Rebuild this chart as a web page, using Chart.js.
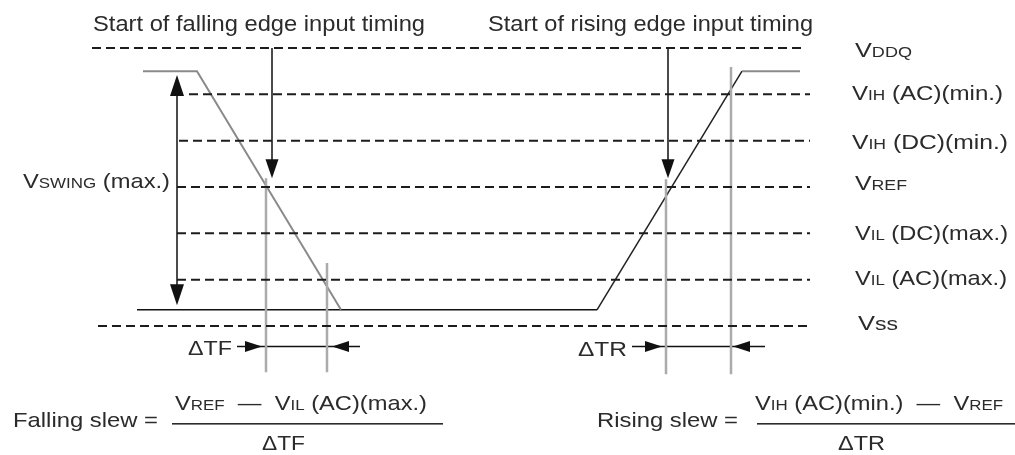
<!DOCTYPE html>
<html>
<head>
<meta charset="utf-8">
<script src="https://cdn.jsdelivr.net/npm/chart.js@4.4.1/dist/chart.umd.min.js"></script>
<style>
html, body { margin: 0; padding: 0; background: #fff; }
#wrap { width: 1015px; height: 455px; }
</style>
</head>
<body>
<div id="wrap"><canvas id="timing" width="1015" height="455"></canvas></div>
<script>
// reference levels, Vss = 0 and one step between lines
const levelMain = ['V', 'V', 'V', 'V', 'V', 'V', 'V'];
const levelSub = ['DDQ', 'IH', 'IH', 'REF', 'IL', 'IL', 'ss'];
const levelTail = ['', ' (AC)(min.)', ' (DC)(min.)', '', ' (DC)(max.)', ' (AC)(max.)', ''];
const levelValues = [6, 5, 4, 3, 2, 1, 0];
const levelStart = [9.2, 18.9, 17.9, 17.7, 17.7, 17.7, 9.8];
const levelEnd = [80.6, 81, 81, 81, 81, 81, 81];

// input signal (time, level)
const fallTimes = [14.3, 19.7, 34.1];
const fallLevels = [5.5, 5.5, 0.35];
const lowTimes = [13.7, 59.7];
const lowLevels = [0.35, 0.35];
const riseTimes = [59.7, 74.2, 80.0];
const riseLevels = [0.35, 5.5, 5.5];

// gray timing markers
const markerTimes = [26.6, 32.7, 66.6, 73.1];
const markerTops = [3.19, 1.36, 3.17, 5.59];
const markerBottoms = [-1.0, -1.0, -1.04, -1.04];

// "start of ... timing" arrows
const startTitles = ['Start of falling edge input timing', 'Start of rising edge input timing'];
const startTimes = [27.2, 66.8];
const startFrom = 6.0;
const startTo = 3.19;

// Vswing arrow
const swingTime = 17.7;
const swingTop = 5.42;
const swingBottom = 0.45;

// delta T arrows
const deltaNames = ['ΔTF', 'ΔTR'];
const deltaLevel = -0.44;
const deltaFrom = [23.7, 63.2];
const deltaTo = [36.0, 76.5];
const deltaTipRight = [26.2, 66.2];
const deltaTipLeft = [33.2, 73.3];

const FONT = '"Liberation Sans", Arial, Helvetica, sans-serif';
const TEXT = '#2b2b2b';

const pts = (xs, ys) => xs.map((x, i) => ({ x: x, y: ys[i] }));

function line(data, color, width, dash) {
    return {
        data: data,
        showLine: true,
        borderColor: color,
        borderWidth: width,
        borderDash: dash || [],
        pointRadius: 0,
        fill: false,
        tension: 0
    };
}

const datasets = [];

// dashed level lines
levelValues.forEach((v, i) => {
    datasets.push(line([{ x: levelStart[i], y: v }, { x: levelEnd[i], y: v }], '#1c1c1c', 2, [9, 5]));
});

// gray markers
markerTimes.forEach((t, i) => {
    datasets.push(line([{ x: t, y: markerTops[i] }, { x: t, y: markerBottoms[i] }], '#ababab', 2.5));
});

// signal
datasets.push(line(pts(fallTimes, fallLevels), '#8a8a8a', 2));
datasets.push(line(pts(lowTimes, lowLevels), '#111', 1.5));
const rise = line(pts(riseTimes, riseLevels), '#222', 1.5);
rise.segment = {
    borderColor: c => c.p0DataIndex === 0 ? '#222' : '#8a8a8a',
    borderWidth: c => c.p0DataIndex === 0 ? 1.5 : 2
};
datasets.push(rise);

// arrow shafts
startTimes.forEach(t => {
    datasets.push(line([{ x: t, y: startFrom }, { x: t, y: startTo + 0.2 }], '#111', 1.5));
});
datasets.push(line([{ x: swingTime, y: swingTop - 0.2 }, { x: swingTime, y: swingBottom + 0.2 }], '#111', 1.5));
deltaFrom.forEach((t, i) => {
    datasets.push(line([{ x: t, y: deltaLevel }, { x: deltaTo[i], y: deltaLevel }], '#111', 1.5));
});

function head(ctx, tx, ty, dx, dy, len, half) {
    const bx = tx - dx * len, by = ty - dy * len;
    ctx.beginPath();
    ctx.moveTo(tx, ty);
    ctx.lineTo(bx - dy * half, by + dx * half);
    ctx.lineTo(bx + dy * half, by - dx * half);
    ctx.closePath();
    ctx.fill();
}

// text made of runs [string, size], stretched to the given width
function runs(ctx, parts, left, base, width) {
    let total = 0;
    parts.forEach(p => {
        ctx.font = p[1] + 'px ' + FONT;
        total += ctx.measureText(p[0]).width;
    });
    ctx.save();
    ctx.translate(left, base);
    ctx.scale(width / total, 1);
    let x = 0;
    parts.forEach(p => {
        ctx.font = p[1] + 'px ' + FONT;
        ctx.fillText(p[0], x, 0);
        x += ctx.measureText(p[0]).width;
    });
    ctx.restore();
}

const annotate = {
    id: 'annotate',
    afterDatasetsDraw(chart) {
        const ctx = chart.ctx;
        const x = chart.scales.x, y = chart.scales.y;
        const px = t => x.getPixelForValue(t);
        const py = v => y.getPixelForValue(v);

        ctx.save();
        ctx.fillStyle = '#111';
        startTimes.forEach(t => head(ctx, px(t), py(startTo), 0, 1, 19, 6.5));
        head(ctx, px(swingTime), py(swingTop), 0, -1, 21, 7);
        head(ctx, px(swingTime), py(swingBottom), 0, 1, 21, 7);
        deltaTipRight.forEach(t => head(ctx, px(t), py(deltaLevel), 1, 0, 17, 5.5));
        deltaTipLeft.forEach(t => head(ctx, px(t), py(deltaLevel), -1, 0, 17, 5.5));

        ctx.fillStyle = TEXT;
        ctx.textBaseline = 'alphabetic';
        ctx.textAlign = 'left';

        // titles over the arrows
        runs(ctx, [[startTitles[0], 22]], 93, 31, 332);
        runs(ctx, [[startTitles[1], 22]], 488, 31, 325);

        // level labels on the right
        const labLeft = [855, 852, 852, 855, 855, 855, 858];
        const labBase = [57, 100, 149, 190, 240, 285, 330];
        const labWidth = [57, 151, 156, 52, 153, 152, 40];
        levelValues.forEach((v, i) => {
            const subSize = levelSub[i] === 'ss' ? 19 : 15;
            const parts = [[levelMain[i], 21], [levelSub[i], subSize]];
            if (levelTail[i]) parts.push([levelTail[i], 21]);
            runs(ctx, parts, labLeft[i], labBase[i], labWidth[i]);
        });

        runs(ctx, [['V', 21], ['SWING', 15], [' (max.)', 21]], 23, 188, 147);

        // delta T labels
        runs(ctx, [[deltaNames[0], 21]], 188, 355, 44);
        runs(ctx, [[deltaNames[1], 21]], 578, 356, 49);

        // slew formulas
        runs(ctx, [['Falling slew =', 21]], 13, 427, 145);
        runs(ctx, [['V', 21], ['REF', 15], ['  —  ', 21], ['V', 21], ['IL', 15], [' (AC)(max.)', 21]], 175, 410, 252);
        ctx.fillRect(172, 423, 271, 1.6);
        runs(ctx, [[deltaNames[0], 21]], 262, 450, 43);

        runs(ctx, [['Rising slew =', 21]], 597, 427, 141);
        runs(ctx, [['V', 21], ['IH', 15], [' (AC)(min.)  —  ', 21], ['V', 21], ['REF', 15]], 755, 410, 248);
        ctx.fillRect(757, 423, 258, 1.6);
        runs(ctx, [[deltaNames[1], 21]], 838, 450, 47);
        ctx.restore();
    }
};

new Chart(document.getElementById('timing'), {
    type: 'scatter',
    data: { datasets: datasets },
    options: {
        responsive: false,
        animation: false,
        events: [],
        layout: { padding: 0 },
        plugins: {
            legend: { display: false },
            tooltip: { enabled: false }
        },
        scales: {
            x: { type: 'linear', display: false, min: 0, max: 101.5 },
            y: { type: 'linear', display: false, min: -2.7844, max: 7.0365 }
        }
    },
    plugins: [annotate]
});
</script>
</body>
</html>
